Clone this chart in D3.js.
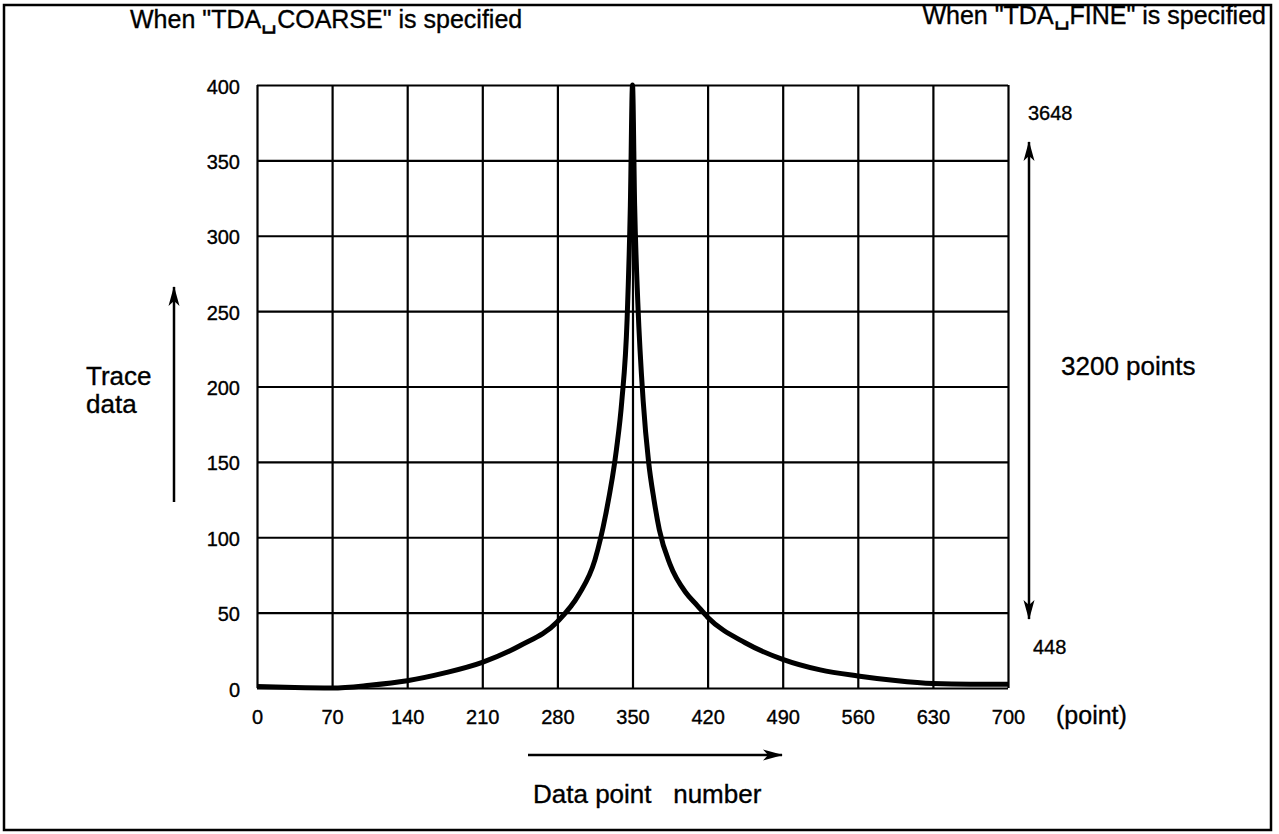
<!DOCTYPE html>
<html>
<head>
<meta charset="utf-8">
<script src="https://cdn.jsdelivr.net/npm/d3@7"></script>
<style>
  body { margin: 0; background: #fff; }
  svg text { font-family: "Liberation Sans", Arial, Helvetica, sans-serif; fill: #000; stroke: #000; stroke-width: 0.35px; }
  .grid line { stroke: #000; stroke-width: 2.2; }
  .grid .domain { display: none; }
  .grid text { font-size: 20px; }
</style>
</head>
<body>
<svg id="chart"></svg>
<script>
// Trace data across the sweep (data point number -> trace value)
const pointNumbers = [0, 35, 70, 105, 140, 175, 210, 245, 280, 300, 315, 325, 335, 340, 345, 348, 350,
  352, 355, 360, 365, 370, 375, 385, 400, 410, 420, 455, 490, 525, 560, 595, 630, 665, 700];
const traceValues = [1, 0.3, 0, 1.8, 4.8, 10, 17, 28, 44, 62, 85, 115, 158, 190, 245, 320, 400,
  320, 255, 190, 150, 125, 105, 82, 63, 55, 47, 30, 19, 12, 8, 5, 3, 2.5, 2.5];

const xTicks = [0, 70, 140, 210, 280, 350, 420, 490, 560, 630, 700];
const yTicks = [0, 50, 100, 150, 200, 250, 300, 350, 400];

const config = {
  width: 1279,
  height: 834,
  margin: { top: 85, right: 271, bottom: 146, left: 257 }
};

const innerW = config.width - config.margin.left - config.margin.right;
const innerH = config.height - config.margin.top - config.margin.bottom;

const svg = d3.select('#chart')
  .attr('width', config.width)
  .attr('height', config.height);

// outer frame
svg.append('rect')
  .attr('x', 4).attr('y', 5)
  .attr('width', 1267).attr('height', 825)
  .attr('fill', 'none')
  .attr('stroke', '#000')
  .attr('stroke-width', 2.5);

const defs = svg.append('defs');
defs.append('marker')
  .attr('id', 'head')
  .attr('viewBox', '0 0 20 12')
  .attr('refX', 19).attr('refY', 6)
  .attr('markerWidth', 20).attr('markerHeight', 12)
  .attr('markerUnits', 'userSpaceOnUse')
  .attr('orient', 'auto')
  .append('path')
  .attr('d', 'M0,0.5 L20,6 L0,11.5 L5,6 Z')
  .attr('fill', '#000');

const chartArea = svg.append('g')
  .attr('transform', `translate(${config.margin.left},${config.margin.top})`);

const xScale = d3.scaleLinear().domain([0, 700]).range([0, innerW]);
const yScale = d3.scaleLinear().domain([0, 400]).range([innerH, 0]);

// grid via axes
const xAxis = d3.axisBottom(xScale)
  .tickValues(xTicks)
  .tickSize(-innerH)
  .tickPadding(22)
  .tickFormat(d3.format('d'));

const yAxis = d3.axisLeft(yScale)
  .tickValues(yTicks)
  .tickSize(-innerW)
  .tickPadding(17)
  .tickFormat(d3.format('d'));

chartArea.append('g')
  .attr('class', 'grid')
  .attr('transform', `translate(0,${innerH})`)
  .call(xAxis)
  .call(g => g.selectAll('text').attr('font-family', null).attr('font-size', null));

chartArea.append('g')
  .attr('class', 'grid')
  .call(yAxis)
  .call(g => g.selectAll('text').attr('font-family', null).attr('font-size', null).attr('dy', '0.4em'));

// trace curve
const traceData = pointNumbers.map((p, i) => ({ p: p, v: traceValues[i] }));
const line = d3.line()
  .x(d => xScale(d.p))
  .y(d => yScale(d.v))
  .curve(d3.curveMonotoneX);

chartArea.append('path')
  .datum(traceData)
  .attr('d', line)
  .attr('fill', 'none')
  .attr('stroke', '#000')
  .attr('stroke-width', 5)
  .attr('stroke-linejoin', 'round');

// titles
svg.append('text')
  .attr('x', 130).attr('y', 28)
  .style('font-size', '25px')
  .text('When "TDA\u2423COARSE" is specified');

svg.append('text')
  .attr('x', 1266).attr('y', 24)
  .attr('text-anchor', 'end')
  .style('font-size', '25px')
  .text('When "TDA\u2423FINE" is specified');

// y axis title with arrow
svg.append('text')
  .attr('x', 86).attr('y', 385)
  .style('font-size', '26px')
  .text('Trace');
svg.append('text')
  .attr('x', 86).attr('y', 413)
  .style('font-size', '26px')
  .text('data');
svg.append('line')
  .attr('x1', 174).attr('y1', 502)
  .attr('x2', 174).attr('y2', 287)
  .attr('stroke', '#000').attr('stroke-width', 2.5)
  .attr('marker-end', 'url(#head)');

// x axis title with arrow
svg.append('text')
  .attr('x', 1056).attr('y', 724)
  .style('font-size', '25px')
  .text('(point)');
svg.append('line')
  .attr('x1', 528).attr('y1', 755)
  .attr('x2', 782).attr('y2', 755)
  .attr('stroke', '#000').attr('stroke-width', 2.5)
  .attr('marker-end', 'url(#head)');
svg.append('text')
  .attr('x', 533).attr('y', 803)
  .style('font-size', '26px')
  .style('white-space', 'pre')
  .text('Data point   number');

// FINE range annotation
svg.append('line')
  .attr('x1', 1029).attr('y1', 380)
  .attr('x2', 1029).attr('y2', 142)
  .attr('stroke', '#000').attr('stroke-width', 2.5)
  .attr('marker-end', 'url(#head)');
svg.append('line')
  .attr('x1', 1029).attr('y1', 380)
  .attr('x2', 1029).attr('y2', 619)
  .attr('stroke', '#000').attr('stroke-width', 2.5)
  .attr('marker-end', 'url(#head)');
svg.append('text')
  .attr('x', 1028).attr('y', 120)
  .style('font-size', '20px')
  .text('3648');
svg.append('text')
  .attr('x', 1033).attr('y', 654)
  .style('font-size', '20px')
  .text('448');
svg.append('text')
  .attr('x', 1061).attr('y', 375)
  .style('font-size', '26px')
  .text('3200 points');
</script>
</body>
</html>
